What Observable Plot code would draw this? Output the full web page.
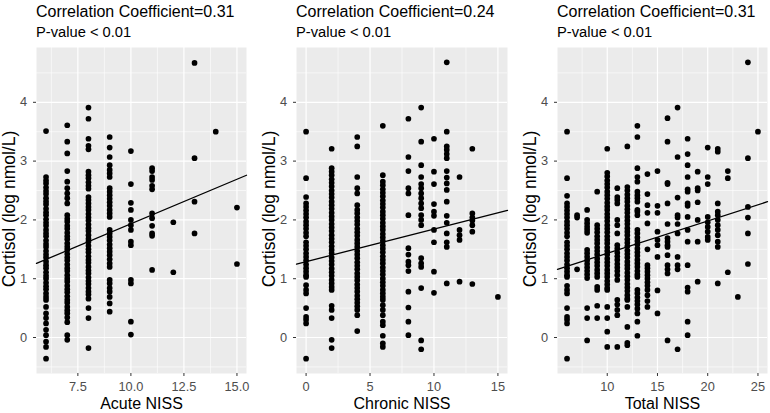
<!DOCTYPE html>
<html><head><meta charset="utf-8">
<script src="https://cdn.jsdelivr.net/npm/d3@7"></script>
<script src="https://cdn.jsdelivr.net/npm/@observablehq/plot@0.6"></script>
<style>
body{margin:0;background:#fff;font-family:"Liberation Sans",Arial,sans-serif;}
#wrap{position:relative;width:770px;height:413px;overflow:hidden;background:#fff;}
.t1{position:absolute;top:3.8px;font-size:16px;line-height:1;color:#000;white-space:nowrap;}
.t2{position:absolute;top:24.9px;font-size:14.7px;line-height:1;color:#000;white-space:nowrap;}
.plot{position:absolute;top:45px;}
</style></head>
<body><div id="wrap"></div>
<script>
// ---- data: [x value, cortisol values at that x] ----
const acuteCols = [
  [6, [3.51, 2.73, 2.67, 2.62, 2.55, 2.49, 2.44, 2.37, 2.31, 2.26, 2.19, 2.13, 2.08, 2.01, 1.95, 1.90, 1.83, 1.77, 1.72, 1.65, 1.59, 1.54, 1.47, 1.41, 1.36, 1.29, 1.23, 1.18, 1.11, 1.05, 1.00, 0.93, 0.87, 0.82, 0.75, 0.69, 0.64, 0.52, 0.41, 0.33, 0.24, 0.13, 0.04, -0.07, -0.16, -0.36]],
  [7, [3.61, 3.33, 3.13, 2.83, 2.65, 2.54, 2.45, 2.37, 2.28, 2.08, 2.02, 1.97, 1.90, 1.85, 1.78, 1.72, 1.67, 1.60, 1.54, 1.49, 1.42, 1.36, 1.31, 1.24, 1.18, 1.13, 1.06, 1.00, 0.95, 0.88, 0.82, 0.77, 0.70, 0.64, 0.59, 0.52, 0.46, 0.41, 0.34, 0.26, 0.04, -0.04]],
  [8, [3.91, 3.72, 3.38, 3.26, 3.20, 2.82, 2.76, 2.71, 2.64, 2.58, 2.53, 2.39, 2.34, 2.28, 2.22, 2.17, 2.10, 2.04, 1.99, 1.92, 1.86, 1.81, 1.74, 1.68, 1.63, 1.56, 1.50, 1.45, 1.38, 1.32, 1.27, 1.20, 1.14, 1.09, 1.02, 0.96, 0.91, 0.84, 0.78, 0.73, 0.66, 0.50, 0.33, -0.18]],
  [9, [3.41, 3.23, 3.07, 2.93, 2.85, 2.79, 2.73, 2.54, 2.48, 2.42, 2.36, 2.30, 2.24, 2.17, 2.11, 2.05, 1.83, 1.77, 1.71, 1.65, 1.58, 1.52, 1.46, 1.40, 1.33, 1.26, 1.20, 0.98, 0.92, 0.84, 0.78, 0.69, 0.58, 0.44]],
  [10, [3.17, 2.61, 2.29, 2.17, 2.00, 1.91, 1.83, 1.63, 1.57, 0.98, 0.92, 0.27, 0.05]],
  [11, [2.88, 2.83, 2.73, 2.68, 2.58, 2.52, 2.11, 2.03, 1.90, 1.77, 1.73, 1.15]],
  [12, [1.96, 1.11]],
  [13, [4.67, 3.05, 2.31, 1.77]],
  [14, [3.50]],
  [15, [2.21, 1.25]]
];
const chronicCols = [
  [0, [3.50, 2.71, 2.39, 2.28, 2.22, 2.16, 2.10, 2.04, 1.97, 1.91, 1.85, 1.78, 1.72, 1.62, 1.56, 1.50, 1.43, 1.37, 1.31, 1.24, 1.18, 1.12, 1.06, 1.03, 0.89, 0.81, 0.75, 0.50, 0.35, 0.30, 0.24, -0.36]],
  [2, [3.21, 2.88, 2.82, 2.76, 2.69, 2.63, 2.57, 2.50, 2.44, 2.38, 2.31, 2.25, 2.19, 2.12, 2.06, 2.00, 1.93, 1.87, 1.81, 1.74, 1.68, 1.62, 1.55, 1.49, 1.43, 1.36, 1.30, 1.24, 1.17, 1.11, 1.05, 0.98, 0.92, 0.86, 0.81, 0.54, 0.47, 0.33, -0.04, -0.18]],
  [4, [3.41, 3.25, 2.73, 2.54, 2.45, 2.25, 2.17, 2.11, 2.04, 1.98, 1.92, 1.85, 1.79, 1.73, 1.66, 1.60, 1.54, 1.47, 1.41, 1.35, 1.28, 1.22, 1.16, 1.09, 1.03, 0.97, 0.90, 0.84, 0.78, 0.71, 0.65, 0.59, 0.53, 0.47, 0.38, 0.11]],
  [6, [3.60, 2.76, 2.65, 2.59, 2.52, 2.46, 2.40, 2.33, 2.27, 2.21, 2.14, 2.08, 2.02, 1.95, 1.89, 1.83, 1.76, 1.70, 1.64, 1.57, 1.51, 1.45, 1.38, 1.32, 1.26, 1.19, 1.13, 1.07, 1.00, 0.94, 0.88, 0.81, 0.75, 0.69, 0.64, 0.55, 0.47, 0.38, 0.27, 0.21, 0.03, -0.10, -0.16]],
  [8, [3.72, 3.07, 2.83, 2.54, 2.45, 2.08, 1.52, 1.41, 1.29, 1.23, 1.13, 0.78, 0.51, 0.27, 0.04]],
  [9, [3.91, 3.33, 2.93, 2.73, 2.61, 2.54, 2.45, 2.37, 2.28, 2.20, 2.08, 2.00, 1.91, 1.35, 1.26, 1.20, 0.84, -0.05, -0.20]],
  [10, [3.38, 2.82, 2.61, 2.27, 2.14, 2.07, 1.83, 1.62, 1.12, 0.76]],
  [11, [4.68, 3.50, 3.25, 3.19, 3.12, 3.05, 2.83, 2.72, 2.62, 2.51, 2.31, 2.07, 1.95, 1.77, 1.62, 1.54, 0.92]],
  [12, [2.73, 1.83, 1.74, 1.66, 0.95]],
  [13, [3.21, 2.11, 2.04, 1.99, 1.91, 1.80, 0.91]],
  [15, [0.69]]
];
const totalCols = [
  [6, [3.50, 2.71, 2.41, 2.28, 2.22, 2.16, 2.10, 2.04, 1.97, 1.91, 1.85, 1.78, 1.72, 1.62, 1.56, 1.50, 1.43, 1.37, 1.31, 1.24, 1.18, 1.12, 1.06, 1.03, 0.88, 0.81, 0.75, 0.50, 0.35, 0.30, 0.24, -0.36]],
  [7, [2.08, 2.04, 1.16]],
  [8, [2.17, 2.00, 1.94, 1.88, 1.83, 1.78, 1.49, 1.43, 1.37, 1.31, 1.25, 1.19, 1.13, 1.07, 1.01, 0.50, 0.33, -0.05]],
  [9, [2.48, 1.91, 1.85, 1.79, 1.72, 1.66, 1.60, 1.53, 1.47, 1.41, 1.34, 1.28, 1.22, 1.15, 1.09, 1.03, 0.86, 0.81, 0.54, 0.33]],
  [10, [3.21, 2.80, 2.74, 2.67, 2.61, 2.55, 2.48, 2.42, 2.36, 2.29, 2.23, 2.17, 2.10, 2.04, 1.98, 1.91, 1.85, 1.79, 1.72, 1.66, 1.60, 1.53, 1.47, 1.41, 1.34, 1.28, 1.22, 1.15, 1.09, 1.03, 0.96, 0.90, 0.84, 0.81, 0.52, 0.33, 0.10, -0.16]],
  [11, [2.54, 2.39, 2.34, 2.28, 2.00, 1.91, 1.77, 1.57, 1.51, 1.44, 1.38, 1.32, 1.25, 1.19, 1.13, 1.06, 0.98, 0.64, 0.56, 0.47, 0.38, -0.16]],
  [12, [3.25, 2.56, 2.50, 2.43, 2.37, 2.31, 2.24, 2.18, 2.12, 2.05, 1.99, 1.93, 1.86, 1.80, 1.74, 1.67, 1.61, 1.55, 1.48, 1.42, 1.36, 1.29, 1.23, 1.17, 1.10, 1.04, 0.98, 0.91, 0.85, 0.79, 0.72, 0.66, 0.64, 0.52, 0.18, -0.09, -0.13]],
  [13, [3.60, 3.41, 2.88, 2.73, 2.65, 2.48, 2.42, 2.37, 2.31, 2.17, 2.14, 2.08, 1.83, 1.77, 1.70, 1.64, 1.58, 1.51, 1.45, 1.39, 1.32, 1.26, 1.20, 1.13, 1.07, 1.03, 0.81, 0.75, 0.68, 0.62, 0.56, 0.49, 0.41, 0.27, 0.03]],
  [14, [2.78, 2.44, 2.25, 2.12, 1.94, 1.50, 1.23, 1.18, 1.12, 1.06, 1.00, 0.94, 0.88, 0.81, 0.72, 0.62, 0.52]],
  [15, [2.83, 2.24, 2.12, 1.80, 1.66, 1.57, 1.37, 0.80, 0.41]],
  [16, [3.73, 3.33, 2.63, 2.61, 2.28, 1.93, 1.69, 1.63, 1.57, 1.54, 1.40, 1.23, 1.16, 1.09, -0.05]],
  [17, [3.91, 3.07, 2.38, 2.08, 2.04, 1.93, 1.77, 1.37, 1.23, 1.16, -0.20]],
  [18, [3.38, 3.12, 2.93, 2.73, 2.52, 2.48, 2.28, 2.24, 2.05, 1.83, 1.63, 1.23, 0.85, 0.78, 0.27, 0.04]],
  [19, [2.82, 2.54, 2.50, 2.30, 2.00, 1.63, 0.95]],
  [20, [3.23, 2.73, 2.61, 2.05, 1.96, 1.88, 1.80, 1.71, 1.66]],
  [21, [3.21, 3.16, 2.28, 2.14, 2.08, 2.00, 1.91, 1.83, 1.74, 1.63, 1.54, 0.92]],
  [22, [2.83, 2.71, 1.11]],
  [23, [0.69]],
  [24, [4.68, 3.05, 2.22, 2.04, 1.77, 1.25]],
  [25, [3.50]]
];
// regression fits (intercept, slope)
const fitIntercepts = [0.419, 1.29, 0.882];
const fitSlopes = [0.1515, 0.0553, 0.055];
const corrLabels = ["Correlation Coefficient=0.31", "Correlation Coefficient=0.24", "Correlation Coefficient=0.31"];
const pLabels = ["P-value < 0.01", "P-value < 0.01", "P-value < 0.01"];
const xTitles = ["Acute NISS", "Chronic NISS", "Total NISS"];
const yTitle = "Cortisol (log nmol/L)";
const xMajor = [[7.5, 10, 12.5, 15], [0, 5, 10, 15], [10, 15, 20, 25]];
const xMinor = [[6.25, 8.75, 11.25, 13.75], [2.5, 7.5, 12.5], [7.5, 12.5, 17.5, 22.5]];
const yMajor = [0, 1, 2, 3, 4];
const yMinor = [-0.5, 0.5, 1.5, 2.5, 3.5, 4.5];
const xFormats = [".1f", "d", "d"];

// ---- build ----
const panelsCols = [acuteCols, chronicCols, totalCols];
const panelData = panelsCols.map(cols => cols.flatMap(([x, ys]) => ys.map(y => ({x, y}))));
const allY = panelData.flat().map(d => d.y);
const yExt = d3.extent(allY);
const yPad = (yExt[1] - yExt[0]) * 0.05;
const yDomain = [yExt[0] - yPad, yExt[1] + yPad];

const layout = [
  {left: 0, width: 255, ml: 36, mr: 9},
  {left: 260, width: 255, ml: 36, mr: 8},
  {left: 515, width: 255, ml: 42, mr: 3}
];
const wrap = document.getElementById("wrap");
const font = '"Liberation Sans", Arial, sans-serif';

panelData.forEach((data, i) => {
  const L = layout[i];
  const xe = d3.extent(data, d => d.x);
  const xp = (xe[1] - xe[0]) * 0.05;
  const xDomain = [xe[0] - xp, xe[1] + xp];
  const fit = xDomain.map(x => ({x, y: fitIntercepts[i] + fitSlopes[i] * x}));

  const t1 = document.createElement("div");
  t1.className = "t1"; t1.style.left = (L.left + L.ml) + "px"; t1.textContent = corrLabels[i];
  const t2 = document.createElement("div");
  t2.className = "t2"; t2.style.left = (L.left + L.ml) + "px"; t2.textContent = pLabels[i];
  wrap.appendChild(t1); wrap.appendChild(t2);

  const chart = Plot.plot({
    width: L.width, height: 368,
    marginTop: 2, marginBottom: 40, marginLeft: L.ml, marginRight: L.mr,
    style: {fontFamily: font, background: "transparent", overflow: "visible"},
    x: {domain: xDomain},
    y: {domain: yDomain},
    marks: [
      Plot.frame({fill: "#ebebeb", stroke: null}),
      Plot.ruleX(xMinor[i], {stroke: "#fff", strokeWidth: 0.6}),
      Plot.ruleY(yMinor.filter(v => v > yDomain[0] && v < yDomain[1]), {stroke: "#fff", strokeWidth: 0.6}),
      Plot.ruleX(xMajor[i], {stroke: "#fff", strokeWidth: 1.2}),
      Plot.ruleY(yMajor, {stroke: "#fff", strokeWidth: 1.2}),
      Plot.dot(data, {x: "x", y: "y", r: 2.85, fill: "#000"}),
      Plot.line(fit, {x: "x", y: "y", stroke: "#000", strokeWidth: 1.3}),
      Plot.axisX({ticks: xMajor[i], tickFormat: d3.format(xFormats[i]), tickSize: 3, tickPadding: 5.5, stroke: "#333", fill: "#4d4d4d", fontSize: 12.8, label: null}),
      Plot.axisY({ticks: yMajor, tickFormat: d3.format("d"), tickSize: 3, tickPadding: 6.5, stroke: "#333", fill: "#4d4d4d", fontSize: 12.8, label: null}),
      Plot.text([xTitles[i]], {frameAnchor: "bottom", lineAnchor: "middle", textAnchor: "middle", dy: 30, fontSize: 16, fill: "#000"}),
      Plot.text([yTitle], {frameAnchor: "left", lineAnchor: "middle", textAnchor: "middle", dx: -27.5, dy: -1.5, rotate: -90, fontSize: 17.5, fill: "#000"})
    ]
  });
  chart.classList.add("plot");
  chart.style.left = L.left + "px";
  chart.style.position = "absolute";
  chart.style.top = "45px";
  wrap.appendChild(chart);
});
</script>
</body></html>
